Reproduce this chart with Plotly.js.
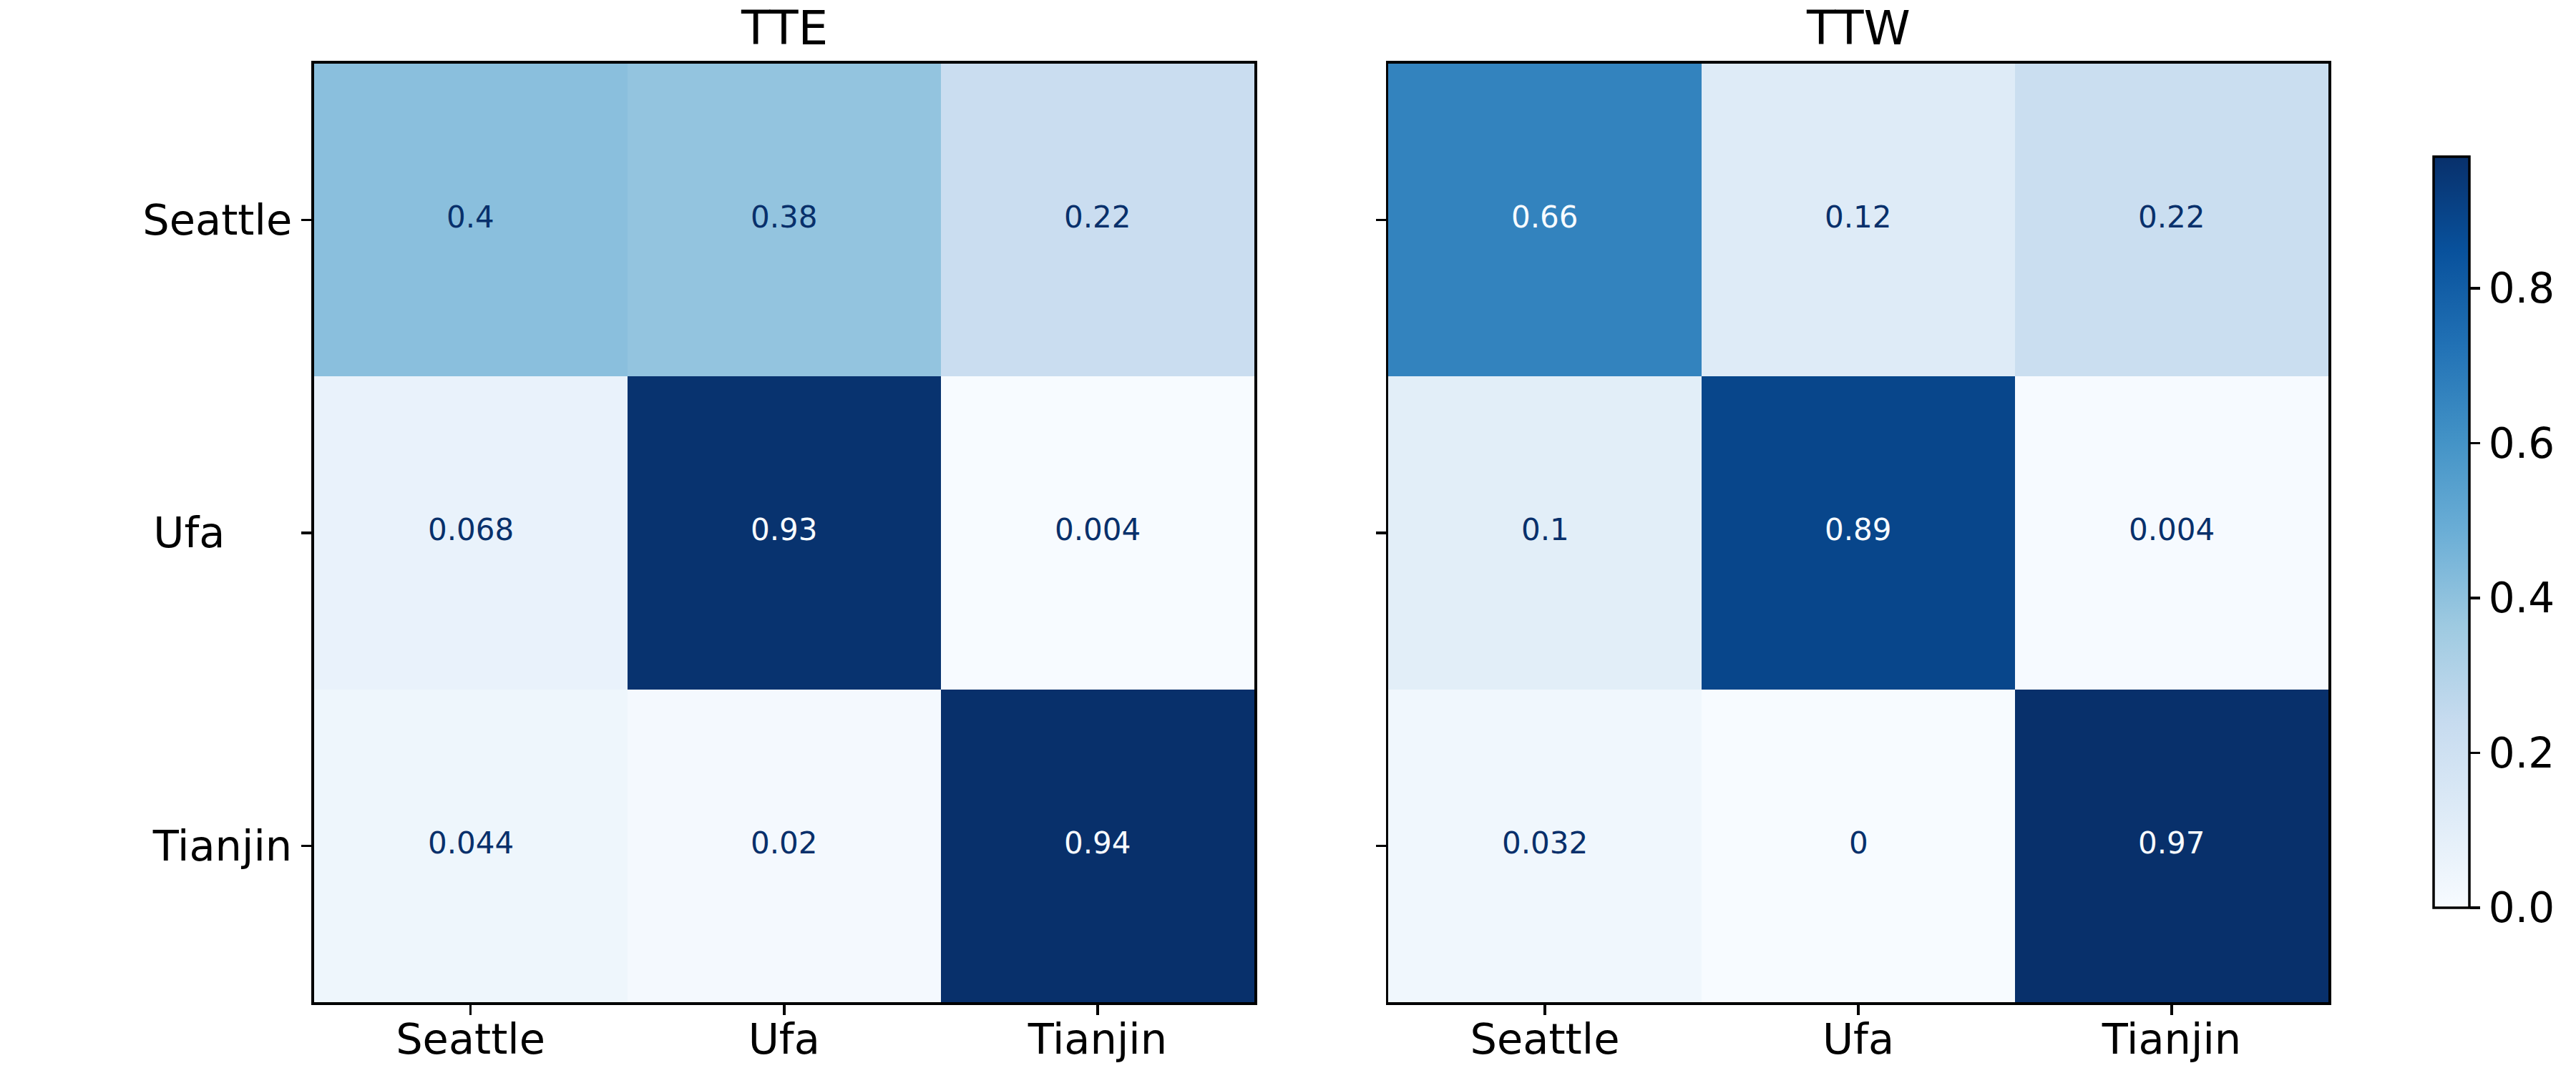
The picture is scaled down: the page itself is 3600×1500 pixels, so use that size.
<!DOCTYPE html>
<html>
<head>
<meta charset="utf-8">
<script src="https://cdn.plot.ly/plotly-3.0.1.min.js"></script>
<style>html,body{margin:0;padding:0;background:#fff;}#chart{width:3600px;height:1500px;}</style>
</head>
<body>
<div id="chart"></div>
<script>
// ---- data ----
const categories = ['Seattle', 'Ufa', 'Tianjin'];
const yTickLabels = ['Seattle', 'Ufa\u00a0\u00a0\u00a0\u00a0\u00a0', 'Tianjin'];
const panelTitles = ['TTE', 'TTW'];
const tteValues = [
  [0.4, 0.38, 0.22],
  [0.068, 0.93, 0.004],
  [0.044, 0.02, 0.94]
];
const ttwValues = [
  [0.66, 0.12, 0.22],
  [0.1, 0.89, 0.004],
  [0.032, 0, 0.97]
];
const colorbarTicks = [0, 0.2, 0.4, 0.6, 0.8];

// ---- style ----
const FONT = 'DejaVu Sans, sans-serif';
const blues = [
  [0.0, '#f7fbff'], [0.125, '#deebf7'], [0.25, '#c6dbef'], [0.375, '#9ecae1'],
  [0.5, '#6baed6'], [0.625, '#4292c6'], [0.75, '#2171b5'], [0.875, '#08519c'], [1.0, '#08306b']
];
const darkText = '#08306b', lightText = '#f7fbff';

function fmt(v) { return Number(v.toPrecision(2)).toString(); }

const panels = [tteValues, ttwValues];
const traces = [];
const annotations = [];
panels.forEach((vals, p) => {
  const flat = vals.flat();
  const zmin = Math.min(...flat), zmax = Math.max(...flat);
  const thresh = (zmin + zmax) / 2;
  const xa = p === 0 ? 'x' : 'x2', ya = p === 0 ? 'y' : 'y2';
  const tr = {
    type: 'heatmap', z: vals, x: categories, y: categories,
    xaxis: xa, yaxis: ya, colorscale: blues, zmin: zmin, zmax: zmax,
    hoverinfo: 'skip', showscale: p === 1, xgap: 0, ygap: 0
  };
  if (p === 1) {
    tr.colorbar = {
      x: 3401 / 3600, xanchor: 'left', xref: 'paper', xpad: 0,
      y: (1500 - 1269) / 1500, yanchor: 'bottom', yref: 'paper', ypad: 0,
      thickness: 50, len: 1050, lenmode: 'pixels',
      outlinewidth: 3.5, outlinecolor: '#000',
      ticks: 'outside', ticklen: 14, tickwidth: 3.5, tickcolor: '#000',
      tickvals: colorbarTicks, tickformat: '.1f',
      tickfont: {family: FONT, size: 58, color: '#000'}
    };
  }
  traces.push(tr);
  vals.forEach((row, i) => {
    row.forEach((v, j) => {
      annotations.push({
        x: categories[j], y: categories[i], xref: xa, yref: ya,
        text: fmt(v), showarrow: false, yshift: 4,
        font: {family: FONT, size: 42, color: v < thresh ? darkText : lightText}
      });
    });
  });
});

const xDomains = [[438.5 / 3600, 1753 / 3600], [1940 / 3600, 3254 / 3600]];
const yDomain = [1 - 1401 / 1500, 1 - 88.5 / 1500];
xDomains.forEach((d, p) => {
  annotations.push({
    x: (d[0] + d[1]) / 2, y: 1 - 40 / 1500, xref: 'paper', yref: 'paper',
    xanchor: 'center', yanchor: 'middle', text: panelTitles[p], showarrow: false,
    font: {family: FONT, size: 66, color: '#000'}
  });
});

function axisBase(standoff) {
  return {
    showline: true, mirror: true, linecolor: '#000', linewidth: 3.5,
    ticks: 'outside', ticklen: 14, tickwidth: 3.5, tickcolor: '#000',
    tickfont: {family: FONT, size: 59, color: '#000'},
    showgrid: false, zeroline: false, fixedrange: true, ticklabelstandoff: standoff
  };
}

const layout = {
  width: 3600, height: 1500,
  margin: {l: 0, r: 0, t: 0, b: 0, pad: 0},
  paper_bgcolor: '#fff', plot_bgcolor: '#fff',
  showlegend: false,
  font: {family: FONT},
  xaxis: Object.assign(axisBase(-16), {domain: xDomains[0], anchor: 'y', tickvals: categories, ticktext: categories}),
  yaxis: Object.assign(axisBase(1), {domain: yDomain, anchor: 'x', autorange: 'reversed', tickvals: categories, ticktext: yTickLabels}),
  xaxis2: Object.assign(axisBase(-16), {domain: xDomains[1], anchor: 'y2', tickvals: categories, ticktext: categories}),
  yaxis2: Object.assign(axisBase(1), {domain: yDomain, anchor: 'x2', autorange: 'reversed', tickvals: categories, showticklabels: false}),
  annotations: annotations
};

Plotly.newPlot('chart', traces, layout, {staticPlot: true, displayModeBar: false});
</script>
</body>
</html>
